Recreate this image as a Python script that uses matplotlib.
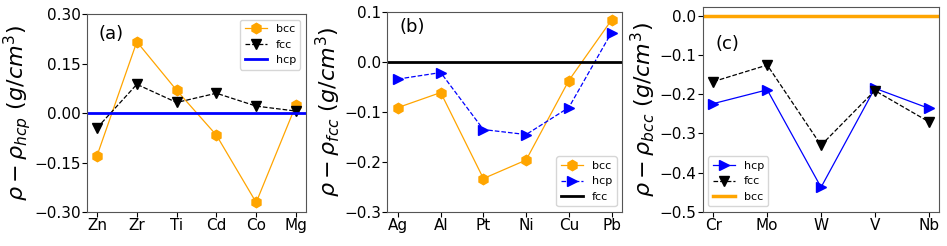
import matplotlib.pyplot as plt

# panel (a): relative to hcp
el_a = ["Zn", "Zr", "Ti", "Cd", "Co", "Mg"]
bcc_a = [-0.129, 0.216, 0.069, -0.067, -0.271, 0.024]
fcc_a = [-0.045, 0.087, 0.032, 0.060, 0.021, 0.006]

# panel (b): relative to fcc
el_b = ["Ag", "Al", "Pt", "Ni", "Cu", "Pb"]
bcc_b = [-0.091, -0.061, -0.233, -0.196, -0.037, 0.084]
hcp_b = [-0.034, -0.021, -0.135, -0.145, -0.091, 0.059]

# panel (c): relative to bcc
el_c = ["Cr", "Mo", "W", "V", "Nb"]
hcp_c = [-0.224, -0.189, -0.437, -0.185, -0.236]
fcc_c = [-0.168, -0.126, -0.330, -0.191, -0.270]

fig = plt.figure(figsize=(9.47, 2.46), dpi=100)
ax1 = fig.add_axes([0.092, 0.138, 0.231, 0.805])
ax2 = fig.add_axes([0.409, 0.138, 0.248, 0.813])
ax3 = fig.add_axes([0.742, 0.138, 0.250, 0.834])

ms = 7.5
lw = 0.9
ylab_fs = 16

# (a)
ax1.plot(el_a, bcc_a, marker='h', color='orange', lw=lw, ms=ms, label='bcc')
ax1.plot(el_a, fcc_a, marker='v', color='k', ls='--', lw=lw, ms=ms, label='fcc')
ax1.axhline(0, color='blue', lw=2, label='hcp')
ax1.set_ylim(-0.3, 0.3)
ax1.set_yticks([-0.30, -0.15, 0.00, 0.15, 0.30])
ax1.set_yticklabels(["\u22120.30", "\u22120.15", "0.00", "0.15", "0.30"])
ax1.set_ylabel(r'$\rho-\rho_{hcp}\ (g/cm^3)$', fontsize=ylab_fs, labelpad=1)
ax1.text(0.05, 0.90, '(a)', transform=ax1.transAxes, fontsize=13, va='center')
ax1.legend(loc='upper right', fontsize=8)

# (b)
ax2.plot(el_b, bcc_b, marker='h', color='orange', lw=lw, ms=ms, label='bcc')
ax2.plot(el_b, hcp_b, marker='>', color='blue', ls='--', lw=lw, ms=ms, label='hcp')
ax2.axhline(0, color='k', lw=2, label='fcc')
ax2.set_ylim(-0.3, 0.1)
ax2.set_yticks([-0.3, -0.2, -0.1, 0.0, 0.1])
ax2.set_ylabel(r'$\rho-\rho_{fcc}\ (g/cm^3)$', fontsize=ylab_fs, labelpad=1)
ax2.text(0.05, 0.925, '(b)', transform=ax2.transAxes, fontsize=13, va='center')
ax2.legend(loc='lower right', fontsize=8)

# (c)
ax3.plot(el_c, hcp_c, marker='>', color='blue', lw=lw, ms=ms, label='hcp')
ax3.plot(el_c, fcc_c, marker='v', color='k', ls='--', lw=lw, ms=ms, label='fcc')
ax3.axhline(0, color='orange', lw=2.5, label='bcc')
ax3.set_ylim(-0.5, 0.022)
ax3.set_yticks([-0.5, -0.4, -0.3, -0.2, -0.1, 0.0])
ax3.set_ylabel(r'$\rho-\rho_{bcc}\ (g/cm^3)$', fontsize=ylab_fs, labelpad=1)
ax3.text(0.055, 0.82, '(c)', transform=ax3.transAxes, fontsize=13, va='center')
ax3.legend(loc='lower left', fontsize=8)

for ax in (ax1, ax2, ax3):
    ax.tick_params(labelsize=11, pad=1)
    for s in ax.spines.values():
        s.set_color('#555555')

plt.savefig('out.png', dpi=100)
